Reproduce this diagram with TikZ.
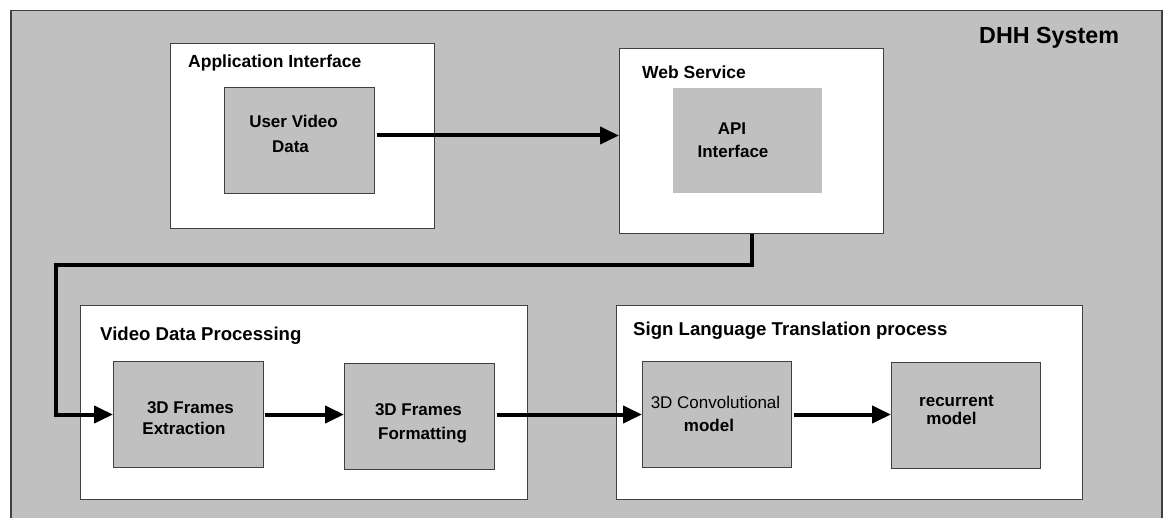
\documentclass[tikz,border=0pt]{standalone}
\usepackage{fontspec}
\setmainfont{Liberation Sans}
\usetikzlibrary{arrows.meta}
\definecolor{boxgray}{HTML}{C0C0C0}
\definecolor{edgegray}{HTML}{404040}
\tikzset{
  outerbox/.style={draw=edgegray, line width=1.5pt, fill=boxgray, anchor=north west, inner sep=0pt},
  whitebox/.style={draw=edgegray, line width=1pt, fill=white, anchor=north west, inner sep=0pt},
  graybox/.style={draw=edgegray, line width=1pt, fill=boxgray, anchor=north west, inner sep=0pt},
  plainbox/.style={fill=boxgray, anchor=north west, inner sep=0pt},
  title/.style={font=\fontsize{17.5}{20}\selectfont\bfseries, anchor=base west, inner sep=0pt},
  lowtitle/.style={font=\fontsize{18.6}{21}\selectfont\bfseries, anchor=base west, inner sep=0pt},
  bigtitle/.style={font=\fontsize{23.3}{26}\selectfont\bfseries, anchor=base west, inner sep=0pt},
  boxtext/.style={font=\fontsize{17}{20}\selectfont\bfseries, anchor=base, inner sep=0pt},
  boxtextreg/.style={font=\fontsize{17}{20}\selectfont, anchor=base, inner sep=0pt},
  flow/.style={line width=4pt, black, -{Triangle[length=19pt,width=17pt]}}
}
\begin{document}
\begin{tikzpicture}[x=1pt,y=-1pt]
\useasboundingbox (0,0) rectangle (1172,518);
\clip (0,0) rectangle (1172,518);
\fill[white] (0,0) rectangle (1172,518);
% outer system box
\node[outerbox, minimum width=1151, minimum height=530] (sys) at (10,10) {};
\node[bigtitle] (systitle) at (979,44) {DHH System};
% application interface
\node[whitebox, minimum width=264, minimum height=185] (app) at (170,43) {};
\node[title] (apptitle) at (188,68) {Application Interface};
\node[graybox, minimum width=150, minimum height=106] (uvd) at (224,87) {};
\node[boxtext] (uvd1) at (293.5,128) {User Video};
\node[boxtext] (uvd2) at (290.5,153) {Data};
% web service
\node[whitebox, minimum width=264, minimum height=185] (ws) at (619,48) {};
\node[title] (wstitle) at (642,79) {Web Service};
\node[plainbox, minimum width=149, minimum height=105] (api) at (673,88) {};
\node[boxtext] (api1) at (732,135) {API};
\node[boxtext] (api2) at (733,158) {Interface};
% video data processing
\node[whitebox, minimum width=447, minimum height=194] (vdp) at (80,305) {};
\node[lowtitle] (vdptitle) at (100,341) {Video Data Processing};
\node[graybox, minimum width=150, minimum height=106] (fe) at (113,361) {};
\node[boxtext] (fe1) at (190.5,413) {3D Frames};
\node[boxtext] (fe2) at (184,434) {Extraction};
\node[graybox, minimum width=150, minimum height=106] (ff) at (344,363) {};
\node[boxtext] (ff1) at (418.5,415) {3D Frames};
\node[boxtext] (ff2) at (422.5,439) {Formatting};
% sign language translation
\node[whitebox, minimum width=466, minimum height=194] (slt) at (616,305) {};
\node[lowtitle] (slttitle) at (633,336) {Sign Language Translation process};
\node[graybox, minimum width=149, minimum height=106] (cm) at (642,361) {};
\node[boxtextreg] (cm1) at (715.5,408) {3D Convolutional};
\node[boxtext] (cm2) at (709,431) {model};
\node[graybox, minimum width=149, minimum height=106] (rm) at (891,362) {};
\node[boxtext] (rm1) at (956.5,406) {recurrent};
\node[boxtext] (rm2) at (951.5,424) {model};
% connectors
\coordinate (turn) at (56,265);
\draw[flow] ([shift={(2,-5)}]uvd.east) -- ([shift={(0,-5)}]uvd.east -| ws.west);
\draw[flow] (ws.south) -- (ws.south |- turn) -- (turn) -- (turn |- fe.west) -- (fe.west);
\draw[flow] ([xshift=1]fe.east) -- (fe.east -| ff.west);
\draw[flow] ([xshift=2]ff.east |- fe.east) -- (fe.east -| cm.west);
\draw[flow] ([xshift=2]cm.east) -- (cm.east -| rm.west);
\end{tikzpicture}
\end{document}
